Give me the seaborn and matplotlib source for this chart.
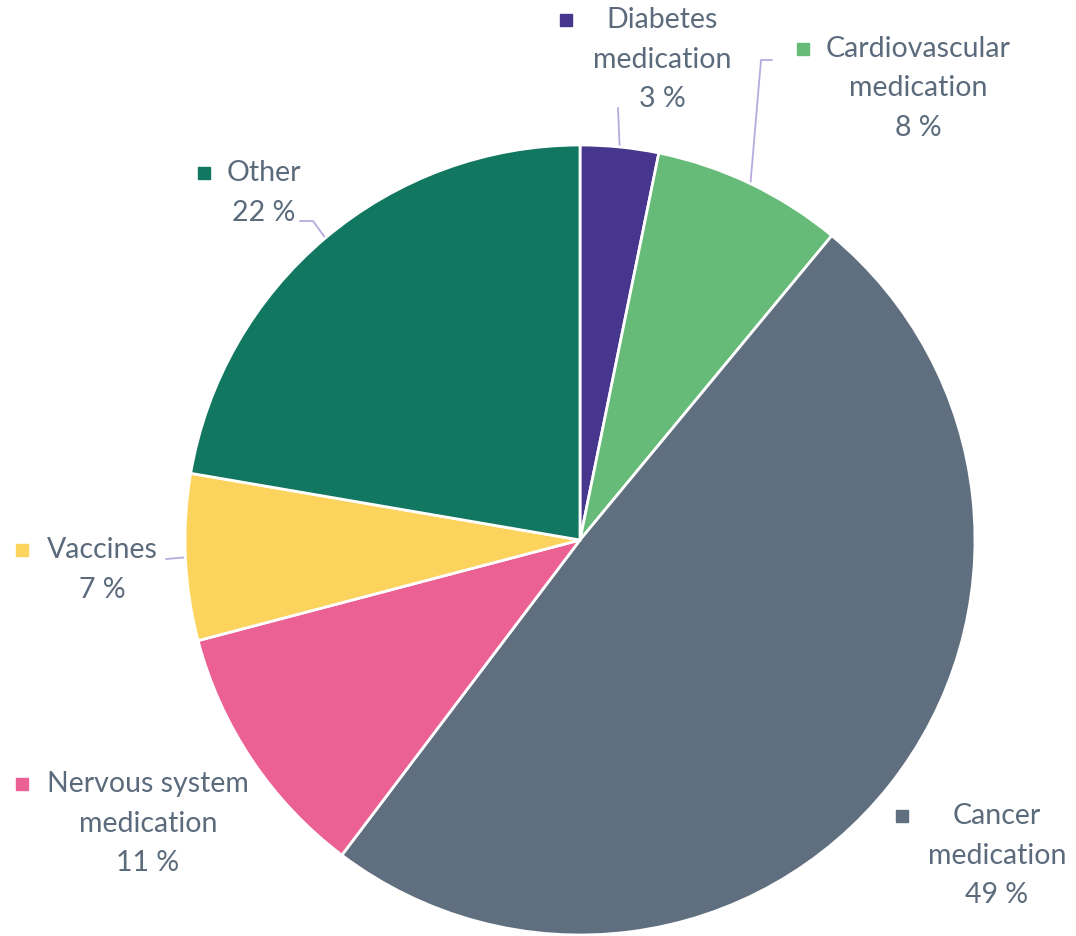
import numpy as np
import matplotlib
matplotlib.use("Agg")
import matplotlib.pyplot as plt
import seaborn as sns

# ---- data ----
categories = ["Diabetes medication", "Cardiovascular medication", "Cancer medication",
              "Nervous system medication", "Vaccines", "Other"]
shares = [3.2, 7.8, 49.3, 10.6, 6.8, 22.3]
label_lines = [["Diabetes", "medication"], ["Cardiovascular", "medication"],
               ["Cancer", "medication"], ["Nervous system", "medication"],
               ["Vaccines"], ["Other"]]
colors = ["#47368E", "#65BB77", "#5F6F7F", "#EC6193", "#FCD45D", "#127761"]

# ---- layout (pixels) ----
W, H = 1076, 936
CX, CY, R = 580, 540, 395
# text block center x, first line y, marker x
label_pos = [(662, 20, 566), (918, 49, 803), (997, 816, 902),
             (148, 784, 22), (102, 550, 22), (264, 173, 204)]
# leader line start points (near label), with optional elbow
leaders = {0: [(618, 108)], 1: [(772, 60), (761, 60)],
           4: [(166, 559)], 5: [(300, 221), (313, 221)]}

sns.set_theme(style="white")
plt.rcParams['font.family'] = ['Lato', 'DejaVu Sans']

fig = plt.figure(figsize=(W / 100, H / 100), dpi=100)
ax = fig.add_axes([0, 0, 1, 1])

def P(px, py):
    return ((px - CX) / R, (CY - py) / R)

wedges, _ = ax.pie(shares, colors=colors, startangle=90, counterclock=False,
                   radius=1, center=(0, 0),
                   wedgeprops=dict(edgecolor="white", linewidth=2))

ax.set_xlim(-CX / R, (W - CX) / R)
ax.set_ylim(-(H - CY) / R, CY / R)
ax.set_aspect("equal")
ax.axis("off")

total = sum(shares)
text_color = "#5B6B7C"
line_color = "#B6AADF"
cum = 0.0
for i, (lines, v) in enumerate(zip(label_lines, shares)):
    mid = (cum + v / 2) / total * 2 * np.pi
    cum += v
    ex, ey = np.sin(mid), np.cos(mid)
    tx, ty, mx = label_pos[i]
    all_lines = lines + [f"{round(v / total * 100):d} %"]
    for k, ln in enumerate(all_lines):
        x, y = P(tx, ty + k * 39.5)
        ax.text(x, y, ln, ha="center", va="center", fontsize=20.5, color=text_color)
    mxx, myy = P(mx, ty)
    ax.plot([mxx], [myy], marker="s", markersize=9, color=colors[i], linestyle="none")
    if i in leaders:
        pts = [P(*p) for p in leaders[i]] + [(ex, ey)]
        xs, ys = zip(*pts)
        ax.plot(xs, ys, color=line_color, linewidth=1.3, zorder=0.5)

fig.savefig("out.png", dpi=100)
